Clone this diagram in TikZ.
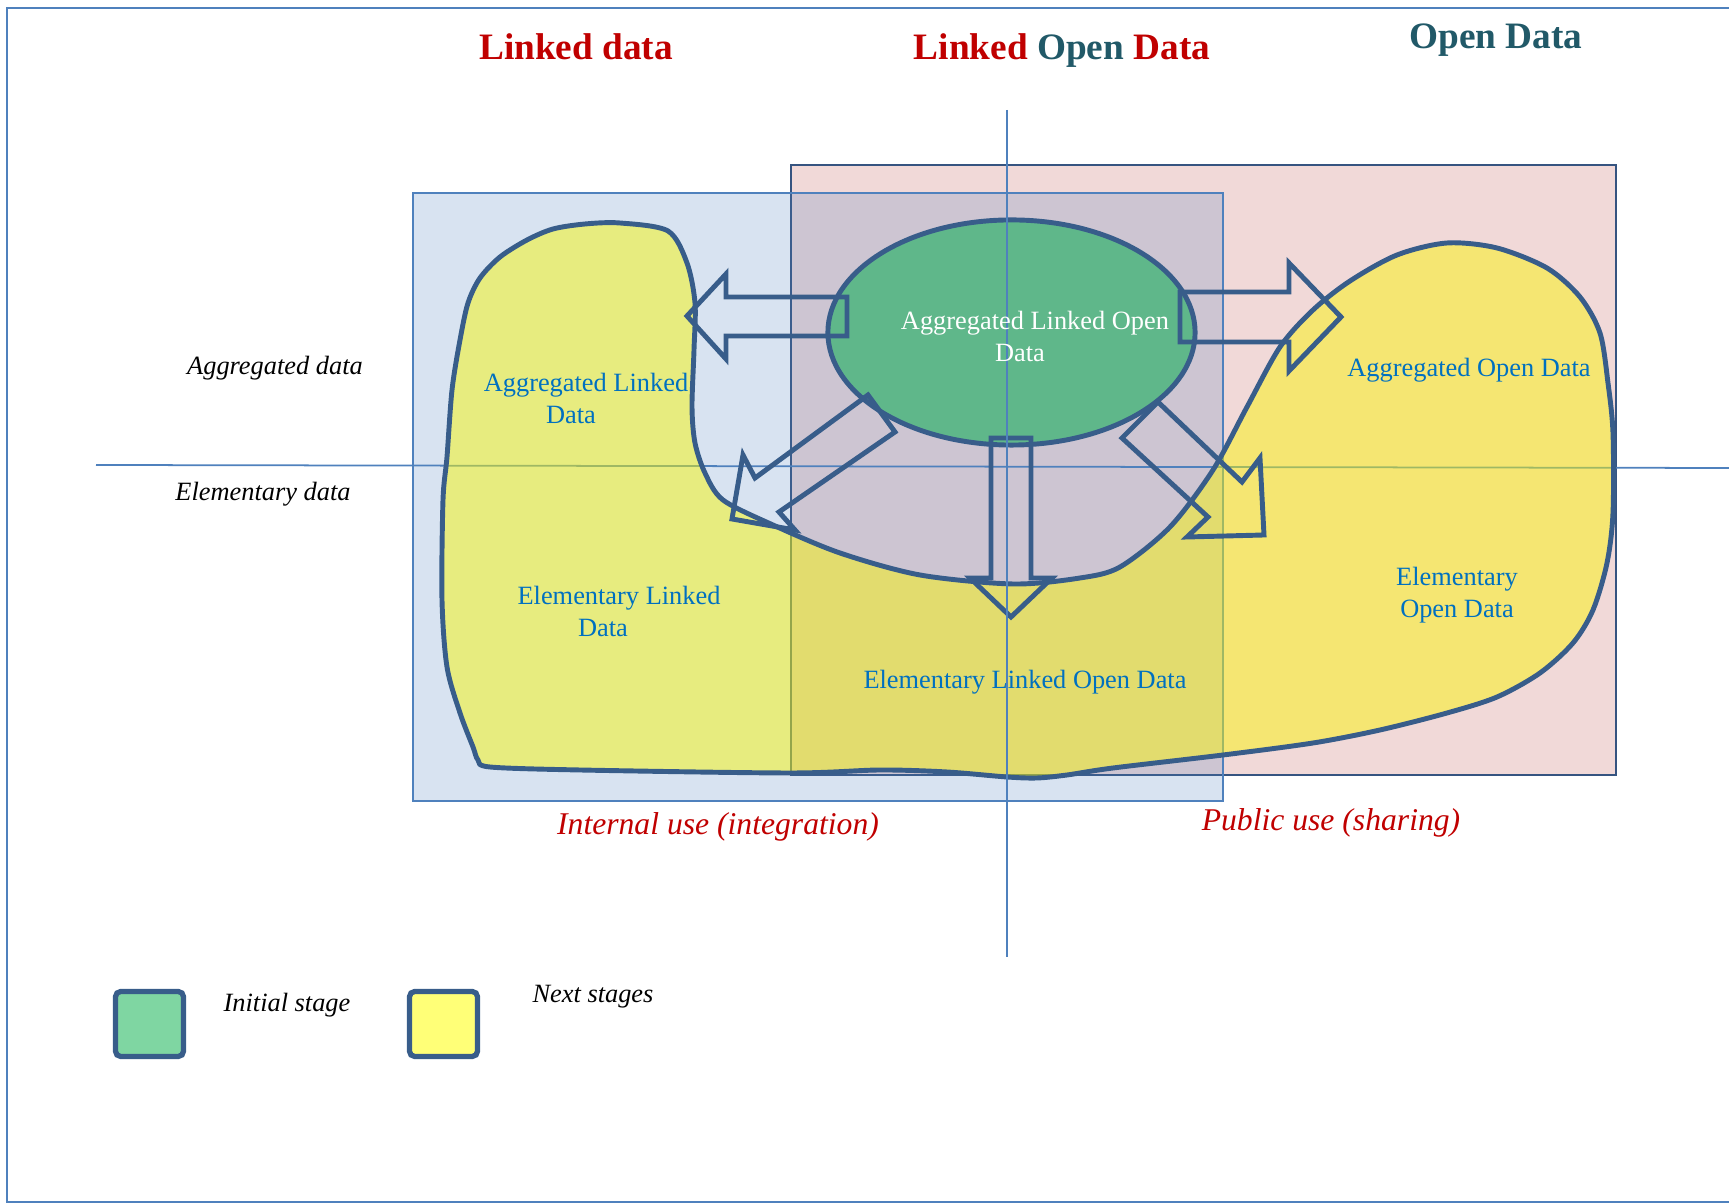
\documentclass[tikz,border=0pt]{standalone}
\usepackage{fontspec}
\setmainfont{Liberation Serif}
\usetikzlibrary{shapes.geometric}
\definecolor{lodred}{RGB}{192,0,0}
\definecolor{lodteal}{RGB}{33,89,104}
\definecolor{lodtext}{RGB}{0,112,192}
\definecolor{lodline}{RGB}{56,93,138}
\definecolor{rectblue}{RGB}{79,129,189}
\definecolor{rectpink}{RGB}{192,80,77}
\definecolor{pinkedge}{RGB}{54,84,128}
\definecolor{blobyellow}{RGB}{250,247,0}
\definecolor{startgreen}{RGB}{95,183,138}
\definecolor{keygreen}{RGB}{127,214,162}
\definecolor{keyyellow}{RGB}{255,255,119}
\tikzset{
  blockline/.style={draw=lodline, line width=1.4pt, line join=miter},
  axisline/.style={draw=rectblue, line width=0.5pt},
  headline/.style={font=\fontsize{10.6}{12}\selectfont\bfseries, anchor=base, inner sep=0pt},
  stagelabel/.style={font=\fontsize{7.5}{9.1}\selectfont, text=lodtext, align=center, anchor=base, inner sep=0pt},
  sidelabel/.style={font=\fontsize{7.5}{9.1}\selectfont\itshape, anchor=base, inner sep=0pt},
  uselabel/.style={font=\fontsize{9}{11}\selectfont\itshape, text=lodred, anchor=base, inner sep=0pt},
  keybox/.style={draw=lodline, line width=1.5pt, rounded corners=1.5pt, minimum width=0.68cm, minimum height=0.65cm, inner sep=0pt},
}
\begin{document}
\begin{tikzpicture}[x=0.01cm, y=-0.01cm]
        \useasboundingbox (0,0) rectangle (1729,1204);
        \draw[draw=rectblue, line width=0.6pt] (1729,8) -- (7,8) -- (7,1202) -- (1729,1202);
        \draw[draw=pinkedge, line width=0.5pt, fill=rectpink, fill opacity=0.22] (791,165) rectangle (1616,775);
        \draw[draw=rectblue, line width=0.5pt, fill=rectblue, fill opacity=0.22] (413,193) rectangle (1223,801);
        \coordinate (hwest) at (96,465);
        \coordinate (heast) at (1729,468);
        \coordinate (vnorth) at (1007,110);
        \coordinate (vsouth) at (1007,957);
        \draw[axisline] (hwest) -- (heast);
        \draw[blockline, fill=blobyellow, fill opacity=0.47] plot[smooth cycle, tension=0.5] coordinates {
          (620,223) (668,231) (687,263) (695,303) (694,350) (692,407) (695,443) (705,473)
          (723,500) (773,525) (840,553) (920,575) (1013,584) (1080,578) (1120,567)
          (1170,527) (1213,470) (1247,407) (1280,347) (1313,310) (1350,281) (1397,255)
          (1447,243) (1497,248) (1547,268) (1580,297) (1600,333) (1608,383) (1613,433)
          (1613,513) (1607,563) (1593,610) (1573,643) (1540,673) (1497,697) (1447,713)
          (1380,730) (1313,743) (1223,755) (1113,768) (1067,775) (1037,778) (1007,777)
          (947,772) (880,770) (790,773) (580,770) (490,767) (478,760) (473,747) (460,713)
          (447,667) (442,600) (443,500) (447,457) (452,390) (460,340) (468,303) (480,278)
          (500,257) (527,240) (553,229) (585,224)};
        \node[ellipse, blockline, fill=startgreen, minimum width=3.67cm, minimum height=2.25cm, inner sep=0pt] (alod) at (1011.5,332.5) {};
        \draw[blockline] (847,297) -- (726,297) -- (726,274) -- (687,316) -- (726,359) -- (726,336) -- (847,336) -- cycle;
        \draw[blockline] (1180,292) -- (1289,292) -- (1289,263) -- (1341,317) -- (1289,371) -- (1289,342) -- (1180,342) -- cycle;
        \draw[blockline] (991,438) -- (991,578) -- (970,578) -- (1011,617) -- (1052,578) -- (1031,578) -- (1031,438) -- cycle;
        \draw[blockline] (868,395) -- (755,478) -- (743,455) -- (732,519) -- (795,530) -- (779,512) -- (895,432) -- cycle;
        \draw[blockline] (1158,402) -- (1242,482) -- (1260,458) -- (1264,535) -- (1187,537) -- (1208,517) -- (1122,438) -- cycle;
        \draw[axisline] (vnorth) -- (vsouth);
        \node[headline, text=lodred] (ldtitle) at (576,60) {Linked data};
        \node[headline] (lodtitle) at (1062,60) {\textcolor{lodred}{Linked} \textcolor{lodteal}{Open} \textcolor{lodred}{Data}};
        \node[headline, text=lodteal] (odtitle) at (1496,49) {Open Data};
        \node[sidelabel] (aggside) at (275,375) {Aggregated data};
        \node[sidelabel] (elemside) at (263,501) {Elementary data};
        \node[stagelabel, text=white] (alodtext) at (1035,362) {Aggregated Linked Open\\Data\hspace*{0.3cm}};
        \node[stagelabel] (aldtext) at (586,424) {Aggregated Linked\\Data\hspace*{0.3cm}};
        \node[stagelabel] (eldtext) at (619,637) {Elementary Linked\\Data\hspace*{0.32cm}};
        \node[stagelabel] (elodtext) at (1025,689) {Elementary Linked Open Data};
        \node[stagelabel] (aodtext) at (1469,377) {Aggregated Open Data};
        \node[stagelabel] (eodtext) at (1457,618) {Elementary\\Open Data};
        \node[uselabel] (internal) at (718,835) {Internal use (integration)};
        \node[uselabel] (public) at (1331,831) {Public use (sharing)};
        \node[keybox, fill=keygreen] (initkey) at (149.5,1024) {};
        \node[keybox, fill=keyyellow] (nextkey) at (443.5,1024) {};
        \node[sidelabel] (inittext) at (287,1012) {Initial stage};
        \node[sidelabel] (nexttext) at (593,1003) {Next stages};
      \end{tikzpicture}
\end{document}
